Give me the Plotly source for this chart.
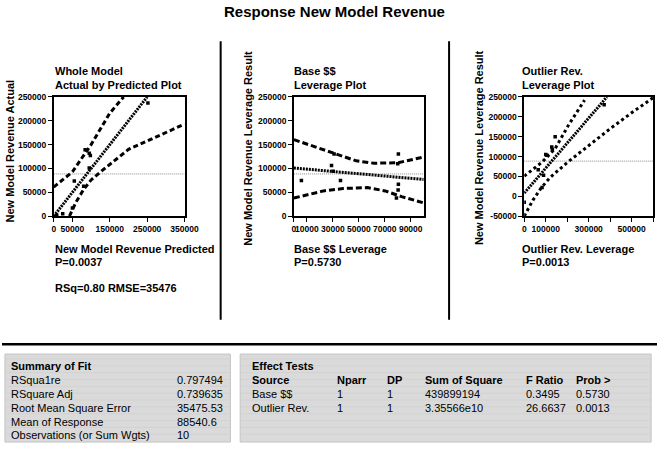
import plotly.graph_objects as go

W, H = 671, 450
FONT = "Liberation Sans, Arial, sans-serif"

# ---------------- data ----------------
# Panel 1: Whole Model, Actual by Predicted
p1_pred = [24000, 50000, 55000, 80000, 84000, 95000, 98000, 95000, 252000, 8000]
p1_actual = [5000, 17000, 74000, 63000, 139000, 132000, 127000, 101000, 237000, 2000]
p1_fit_x = [0, 250000]
p1_fit_y = [0, 250000]
p1_upper_x = [0, 50000, 100000, 150000, 187000]
p1_upper_y = [61000, 93000, 150000, 216000, 250000]
p1_lower_x = [42000, 60000, 80000, 100000, 130000, 200000, 350000]
p1_lower_y = [0, 30000, 56000, 76000, 96000, 140000, 193000]
p1_xticks = [0, 50000, 150000, 250000, 350000]
p1_yticks = [0, 50000, 100000, 150000, 200000, 250000]

# Panel 2: Base $$ leverage
p2_x = [5800, 29000, 31000, 30300, 35900, 80500, 80000, 80500, 80300, 79000]
p2_y = [75000, 106500, 130500, 94000, 75000, 130500, 110000, 67000, 55000, 38000]
p2_fit_x = [0, 100000]
p2_fit_y = [101000, 77000]
p2_upper_x = [0, 31000, 48000, 61700, 80000, 100000]
p2_upper_y = [160500, 131000, 116000, 111000, 112000, 124000]
p2_lower_x = [0, 22800, 37800, 56600, 70400, 83000, 100000]
p2_lower_y = [38000, 53000, 58000, 60000, 53000, 41000, 28000]
p2_xticks = [0, 10000, 30000, 50000, 70000, 90000]
p2_yticks = [0, 50000, 100000, 150000, 200000, 250000]

# Panel 3: Outlier Rev. leverage
p3_x = [0, 83000, 90000, 65000, 100000, 105000, 128000, 131000, 144000, 372000]
p3_y = [-15000, 22000, 53000, 67000, 105000, 103000, 124000, 118000, 150000, 230000]
p3_fit_x = [0, 385000]
p3_fit_y = [8000, 250000]
p3_upper_x = [0, 83000, 144000, 205000, 281000]
p3_upper_y = [50800, 86000, 120000, 178000, 242000]
p3_lower_x = [0, 40000, 80000, 120000, 200000, 300000, 400000, 500000, 600000]
p3_lower_y = [-50000, -10000, 22000, 47000, 85000, 128000, 170000, 210000, 248000]
p3_xticks = [0, 100000, 200000, 300000, 400000, 500000, 600000]
p3_xlabels = ["0", "100000", "", "300000", "", "500000", ""]
p3_yticks = [-50000, 0, 50000, 100000, 150000, 200000, 250000]

mean_response = 88540.6

summary_labels = ["RSqua1re", "RSquare Adj", "Root Mean Square Error",
                  "Mean of Response", "Observations (or Sum Wgts)"]
summary_values = ["0.797494", "0.739635", "35475.53", "88540.6", "10"]

effect_headers = ["Source", "Nparr", "DP", "Sum of Square", "F Ratio", "Prob >"]
effect_source = ["Base $$", "Outlier Rev."]
effect_nparm = ["1", "1"]
effect_df = ["1", "1"]
effect_ss = ["439899194", "3.35566e10"]
effect_f = ["0.3495", "26.6637"]
effect_p = ["0.5730", "0.0013"]

# ---------------- helpers ----------------
def fx(x):
    return x / W

def fy(y):
    return 1 - y / H

fig = go.Figure()

def add_panel(i, pts_x, pts_y, fit_x, fit_y, up_x, up_y, lo_x, lo_y, xr, dash):
    xa = "x" if i == 1 else f"x{i}"
    ya = "y" if i == 1 else f"y{i}"
    fig.add_trace(go.Scatter(x=[xr[0], xr[1]], y=[mean_response, mean_response], mode="lines",
                             line=dict(color="#8a8a8a", width=1, dash="1px,1px"),
                             xaxis=xa, yaxis=ya, hoverinfo="skip"))
    fig.add_trace(go.Scatter(x=up_x, y=up_y, mode="lines",
                             line=dict(color="black", width=3, dash=dash),
                             xaxis=xa, yaxis=ya, hoverinfo="skip"))
    fig.add_trace(go.Scatter(x=lo_x, y=lo_y, mode="lines",
                             line=dict(color="black", width=3, dash=dash),
                             xaxis=xa, yaxis=ya, hoverinfo="skip"))
    fig.add_trace(go.Scatter(x=fit_x, y=fit_y, mode="lines",
                             line=dict(color="black", width=3, dash="2px,1px"),
                             xaxis=xa, yaxis=ya, hoverinfo="skip"))
    fig.add_trace(go.Scatter(x=pts_x, y=pts_y, mode="markers",
                             marker=dict(symbol="square", size=3.5, color="black",
                                         line=dict(width=0)),
                             xaxis=xa, yaxis=ya))

add_panel(1, p1_pred, p1_actual, p1_fit_x, p1_fit_y, p1_upper_x, p1_upper_y,
          p1_lower_x, p1_lower_y, [0, 350000], "5px,3px")
add_panel(2, p2_x, p2_y, p2_fit_x, p2_fit_y, p2_upper_x, p2_upper_y,
          p2_lower_x, p2_lower_y, [0, 100000], "6px,3px")
add_panel(3, p3_x, p3_y, p3_fit_x, p3_fit_y, p3_upper_x, p3_upper_y,
          p3_lower_x, p3_lower_y, [0, 600000], "3px,3px")

tickfont = dict(family=FONT, size=8.5, color="black", weight="bold")
axis_common = dict(showline=True, linecolor="black", linewidth=1.5, mirror=True,
                   ticks="outside", ticklen=4, tickcolor="black", tickwidth=1,
                   showgrid=False, zeroline=False, tickfont=tickfont, tickangle=0)

ydom = [fy(216), fy(94)]
fig.update_layout(
    xaxis=dict(domain=[fx(53), fx(187)], range=[0, 350000], tickvals=p1_xticks,
               ticktext=[str(v) for v in p1_xticks], anchor="y", **axis_common),
    yaxis=dict(domain=ydom, range=[0, 250000], tickvals=p1_yticks,
               ticktext=[str(v) for v in p1_yticks], anchor="x", **axis_common),
    xaxis2=dict(domain=[fx(299), fx(432)], range=[0, 100000], tickvals=p2_xticks,
                ticktext=[str(v) for v in p2_xticks], anchor="y2", **axis_common),
    yaxis2=dict(domain=ydom, range=[0, 250000], tickvals=p2_yticks,
                ticktext=[str(v) for v in p2_yticks], anchor="x2", **axis_common),
    xaxis3=dict(domain=[fx(535), fx(667)], range=[0, 600000], tickvals=p3_xticks,
                ticktext=p3_xlabels, anchor="y3", **axis_common),
    yaxis3=dict(domain=ydom, range=[-50000, 250000], tickvals=p3_yticks,
                ticktext=[str(v) for v in p3_yticks], anchor="x3", **axis_common),
)

ann = []

def text(x, y, s, size=11, bold=True, xanchor="left", angle=0, color="black"):
    ann.append(dict(x=fx(x), y=fy(y), xref="paper", yref="paper", text=s, showarrow=False,
                    xanchor=xanchor, yanchor="middle", textangle=angle,
                    font=dict(family=FONT, size=size, color=color,
                              weight="bold" if bold else "normal")))

text(341, 7, "Response New Model Revenue", size=15, xanchor="center")

# panel titles
text(52, 67, "Whole Model")
text(52, 82, "Actual by Predicted Plot")
text(297, 67, "Base $$")
text(297, 82, "Leverage Plot")
text(531, 67, "Outlier Rev.")
text(531, 82, "Leverage Plot")

# y axis titles
text(8, 149, "New Model Revenue Actual", xanchor="center", angle=-90)
text(252, 146, "New Model Revenue Leverage Result", xanchor="center", angle=-90)
text(488, 146, "New Model Revenue Leverage Result", xanchor="center", angle=-90)

# below-plot labels
text(52, 250, "New Model Revenue Predicted")
text(52, 263, "P=0.0037")
text(52, 289, "RSq=0.80 RMSE=35476")
text(297, 250, "Base $$ Leverage")
text(297, 263, "P=0.5730")
text(531, 250, "Outlier Rev. Leverage")
text(531, 263, "P=0.0013")

# tables
TS = 11
row_y = [383.5, 397.5, 411.7, 426, 440]
text(7, 369.5, "Summary of Fit", size=TS)
for lab, val, yy in zip(summary_labels, summary_values, row_y):
    text(7, yy, lab, size=TS, bold=False)
    text(177, yy, val, size=TS, bold=False)

text(254, 369.5, "Effect Tests", size=TS)
col_x = [254, 341, 392, 431, 535, 586]
for hx, h in zip(col_x, effect_headers):
    text(hx, 383.5, h, size=TS)
for r in range(2):
    row = [effect_source[r], effect_nparm[r], effect_df[r], effect_ss[r], effect_f[r], effect_p[r]]
    for hx, v in zip(col_x, row):
        text(hx, row_y[r + 1], v, size=TS, bold=False)

shapes = []

def rect(x0, y0, x1, y1, fill, line_color, lw=1):
    shapes.append(dict(type="rect", xref="paper", yref="paper", x0=fx(x0), x1=fx(x1),
                       y0=fy(y1), y1=fy(y0), fillcolor=fill,
                       line=dict(color=line_color, width=lw), layer="below"))

def line(x0, y0, x1, y1, color="black", width=2):
    shapes.append(dict(type="line", xref="paper", yref="paper", x0=fx(x0), x1=fx(x1),
                       y0=fy(y0), y1=fy(y1), line=dict(color=color, width=width)))

rect(3, 357, 234, 447, "#dadada", "#c4c4c4")
rect(244, 357, 665, 447, "#dadada", "#c4c4c4")
# faint stripes in the boxes
for k in range(12):
    yy = 362 + k * 7
    for (a, b) in [(4, 233), (245, 664)]:
        shapes.append(dict(type="line", xref="paper", yref="paper", x0=fx(a), x1=fx(b),
                           y0=fy(yy), y1=fy(yy), line=dict(color="#d2d2d2", width=1),
                           layer="below"))

line(224, 37, 224, 322)
line(458, 37, 458, 322)
line(0, 347, 671, 347, width=2.5)

fig.update_layout(
    width=W, height=H, margin=dict(l=0, r=0, t=0, b=0),
    paper_bgcolor="white", plot_bgcolor="white", showlegend=False,
    annotations=ann, shapes=shapes,
)

fig.write_html("out.html", config={"displayModeBar": False},
               post_script="document.body.style.margin='0';document.body.style.overflow='hidden';")
